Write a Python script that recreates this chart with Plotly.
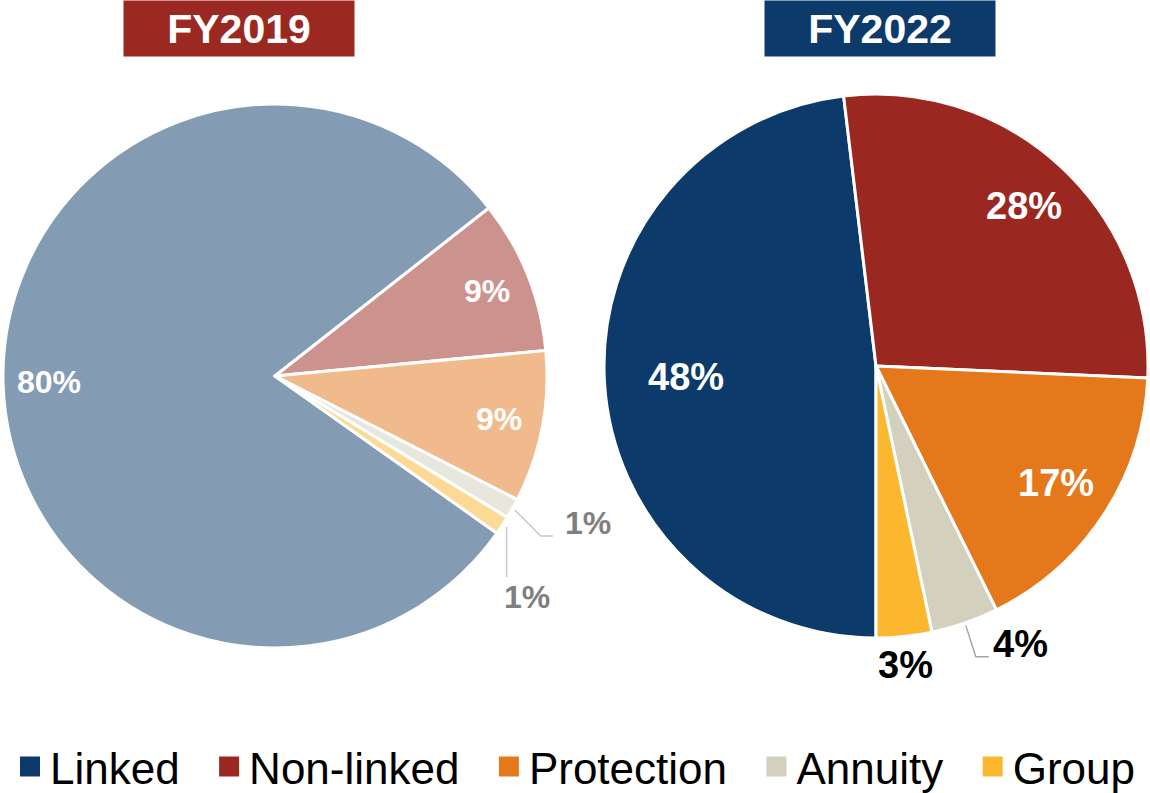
import math
import plotly.graph_objects as go

# ---- data ----
labels = ["Linked", "Non-linked", "Protection", "Annuity", "Group"]
colors = ["#0B3A6B", "#9A2820", "#E5781B", "#D3D0BD", "#FBB72D"]
fy2019 = [79.6, 9.1, 9.0, 1.2, 1.1]
fy2022 = [48.1, 27.6, 17.0, 4.0, 3.3]
titles = ["FY2019", "FY2022"]
title_colors = ["#9A2A21", "#0B3A6B"]

# ---- layout constants ----
W, H = 1150, 793
FONT = "Liberation Sans, Arial, sans-serif"
dom_left = dict(x=[3 / W, 547 / W], y=[1 - 648 / H, 1 - 104 / H])
dom_right = dict(x=[604 / W, 1148 / W], y=[1 - 638 / H, 1 - 94 / H])
rot_left = 125.3
rot_right = 180
title_x_px = [238.5, 880]
label_r_left = [0.83, 0.84, 0.84]
label_r_right = [0.70, 0.80, 0.79]


def slice_point(values, idx, dom, rotation, rfrac=1.0):
    """pixel position on the ray through the middle of slice idx"""
    total = sum(values)
    before = sum(values[:idx])
    ang = rotation + 360 * (before + values[idx] / 2) / total
    cx = (dom["x"][0] + dom["x"][1]) / 2 * W
    cy = (1 - (dom["y"][0] + dom["y"][1]) / 2) * H
    r = min((dom["x"][1] - dom["x"][0]) * W, (dom["y"][1] - dom["y"][0]) * H) / 2 * rfrac
    a = math.radians(ang)
    return cx + r * math.sin(a), cy - r * math.cos(a)


def px(x):
    return x / W


def py(y):
    return 1 - y / H


def pct(values, i):
    return f"{round(values[i] / sum(values) * 100)}%"


fig = go.Figure()
fig.add_trace(go.Pie(
    labels=labels, values=fy2019, sort=False, direction="clockwise", rotation=rot_left,
    domain=dom_left, opacity=0.5, showlegend=False, textinfo="none",
    marker=dict(colors=colors, line=dict(color="white", width=3)),
))
fig.add_trace(go.Pie(
    labels=labels, values=fy2022, sort=False, direction="clockwise", rotation=rot_right,
    domain=dom_right, showlegend=False, textinfo="none",
    marker=dict(colors=colors, line=dict(color="white", width=3)),
))

# legend entries (square markers, no data drawn); spacing padding after all but the last
for k, (lab, col) in enumerate(zip(labels, colors)):
    pad = "\u00a0\u00a0" if k < len(labels) - 1 else ""
    fig.add_trace(go.Scatter(
        x=[None], y=[None], mode="markers", name=lab + pad,
        marker=dict(symbol="square", size=16, color=col, line=dict(color=col, width=4)),
        hoverinfo="skip",
    ))

shapes = []
annotations = []

# title boxes
for t, c, xp in zip(titles, title_colors, title_x_px):
    annotations.append(dict(
        text=f"<b>{t}</b>", x=px(xp), y=1, xref="paper", yref="paper", xanchor="center", yanchor="top",
        showarrow=False, bgcolor=c, width=230, height=55, borderpad=0,
        font=dict(family=FONT, size=41, color="white"),
    ))

# inside labels
for i, rf in enumerate(label_r_left):
    x, y = slice_point(fy2019, i, dom_left, rot_left, rf)
    annotations.append(dict(text=f"<b>{pct(fy2019, i)}</b>", x=px(x), y=py(y), xref="paper", yref="paper",
                            xanchor="center", yanchor="middle", showarrow=False,
                            font=dict(family=FONT, size=32, color="white")))
for i, rf in enumerate(label_r_right):
    x, y = slice_point(fy2022, i, dom_right, rot_right, rf)
    annotations.append(dict(text=f"<b>{pct(fy2022, i)}</b>", x=px(x), y=py(y), xref="paper", yref="paper",
                            xanchor="center", yanchor="middle", showarrow=False,
                            font=dict(family=FONT, size=38, color="white")))

# left pie small labels
sx, sy = slice_point(fy2019, 3, dom_left, rot_left, 1.01)
x1, y1 = sx + 26, sy + 26
x2, y2 = x1 + 12, y1
shapes.append(dict(type="path", xref="paper", yref="paper",
                   path=f"M {px(sx)} {py(sy)} L {px(x1)} {py(y1)} L {px(x2)} {py(y2)}",
                   line=dict(color="#C8C8C8", width=1.5)))
annotations.append(dict(text=f"<b>{pct(fy2019, 3)}</b>", x=px(x2 + 10), y=py(y2 - 13), xref="paper", yref="paper",
                        xanchor="left", yanchor="middle", showarrow=False,
                        font=dict(family=FONT, size=32, color="#7F7F7F")))

sx, sy = slice_point(fy2019, 4, dom_left, rot_left, 1.01)
x1, y1 = sx + 2, sy + 50
shapes.append(dict(type="path", xref="paper", yref="paper",
                   path=f"M {px(sx + 2)} {py(sy)} L {px(x1)} {py(y1)}",
                   line=dict(color="#C8C8C8", width=1.5)))
annotations.append(dict(text=f"<b>{pct(fy2019, 4)}</b>", x=px(sx + 22), y=py(sy + 70), xref="paper", yref="paper",
                        xanchor="center", yanchor="middle", showarrow=False,
                        font=dict(family=FONT, size=32, color="#7F7F7F")))

# right pie small labels
sx, sy = slice_point(fy2022, 3, dom_right, rot_right, 1.01)
x1, y1 = sx + 10, sy + 31
x2, y2 = x1 + 13, y1
shapes.append(dict(type="path", xref="paper", yref="paper",
                   path=f"M {px(sx)} {py(sy)} L {px(x1)} {py(y1)} L {px(x2)} {py(y2)}",
                   line=dict(color="#A6A6A6", width=1.5)))
annotations.append(dict(text=f"<b>{pct(fy2022, 3)}</b>", x=px(x2 + 2), y=py(y2 - 13), xref="paper", yref="paper",
                        xanchor="left", yanchor="middle", showarrow=False,
                        font=dict(family=FONT, size=38, color="black")))

sx, sy = slice_point(fy2022, 4, dom_right, rot_right, 1.0)
annotations.append(dict(text=f"<b>{pct(fy2022, 4)}</b>", x=px(sx + 1), y=py(sy + 28), xref="paper", yref="paper",
                        xanchor="center", yanchor="middle", showarrow=False,
                        font=dict(family=FONT, size=38, color="black")))

fig.update_layout(
    width=W, height=H,
    margin=dict(l=0, r=0, t=0, b=0, autoexpand=False),
    paper_bgcolor="white", plot_bgcolor="white",
    font=dict(family=FONT),
    xaxis=dict(visible=False), yaxis=dict(visible=False),
    shapes=shapes, annotations=annotations,
    legend=dict(orientation="h", x=px(10), xanchor="left", y=py(767), yanchor="middle",
                font=dict(family=FONT, size=44, color="black"), itemwidth=30,
                traceorder="normal", bgcolor="rgba(0,0,0,0)"),
)

fig.write_html("out.html", post_script="document.body.style.margin='0';",
               config={"displayModeBar": False})
